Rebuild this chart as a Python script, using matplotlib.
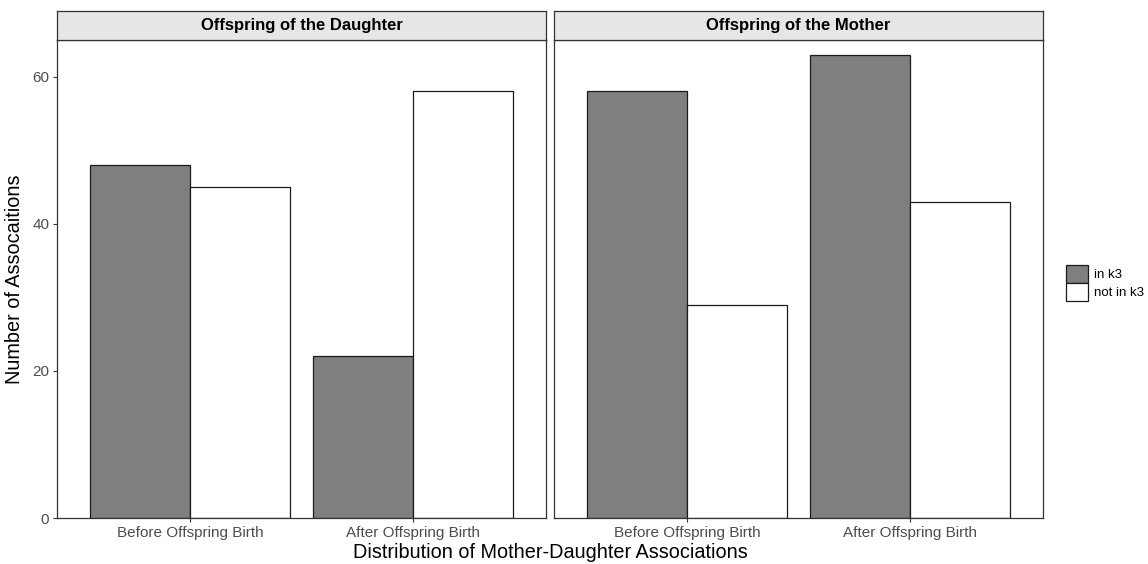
import matplotlib.pyplot as plt
from matplotlib.patches import Patch
import numpy as np

plt.rcParams['font.family'] = ['Liberation Sans', 'DejaVu Sans']

panels = ["Offspring of the Daughter", "Offspring of the Mother"]
periods = ["Before Offspring Birth", "After Offspring Birth"]
groups = ["in k3", "not in k3"]
colors = ["#7f7f7f", "#ffffff"]

# values[panel][group] -> per period
in_k3 = [[48, 22], [58, 63]]
not_in_k3 = [[45, 58], [29, 43]]

W, H = 1148, 564
fig = plt.figure(figsize=(W / 100, H / 100), dpi=100)

panel_x = [57, 554]
panel_w = 489
ax_top, ax_bot, strip_top = 40, 518, 11
edge = "#333333"

x = np.arange(1, len(periods) + 1)
bw = 0.45
axes = []
for i, name in enumerate(panels):
    ax = fig.add_axes([panel_x[i] / W, 1 - ax_bot / H, panel_w / W, (ax_bot - ax_top) / H])
    ax.bar(x - bw / 2, in_k3[i], bw, color=colors[0], edgecolor="#1a1a1a", linewidth=0.9)
    ax.bar(x + bw / 2, not_in_k3[i], bw, color=colors[1], edgecolor="#1a1a1a", linewidth=0.9)
    ax.set_xlim(0.4, 2.6)
    ax.set_ylim(0, 65)
    ax.set_xticks(x)
    ax.set_xticklabels(periods)
    ax.set_yticks([0, 20, 40, 60])
    ax.tick_params(colors=edge, labelcolor="#4d4d4d", labelsize=11, length=3, width=0.8, pad=2.5)
    for s in ax.spines.values():
        s.set_color(edge)
        s.set_linewidth(0.9)
    if i > 0:
        ax.set_yticklabels([])
        ax.tick_params(axis="y", length=0)
    # strip
    sax = fig.add_axes([panel_x[i] / W, 1 - ax_top / H, panel_w / W, (ax_top - strip_top) / H])
    sax.set_facecolor("#e6e6e6")
    sax.set_xticks([])
    sax.set_yticks([])
    for s in sax.spines.values():
        s.set_color(edge)
        s.set_linewidth(0.9)
    sax.text(0.5, 0.5, name, ha="center", va="center", fontsize=12,
             fontweight="bold", transform=sax.transAxes)
    axes.append(ax)

axes[0].set_ylabel("Number of Assocaitions", fontsize=14.3, labelpad=6)
fig.text((57 + 554 + panel_w) / 2 / W, 1 - 553 / H, "Distribution of Mother-Daughter Associations",
         ha="center", va="center", fontsize=14.3)

handles = [Patch(facecolor=c, edgecolor="#1a1a1a", linewidth=0.9) for c in colors]
fig.legend(handles, groups, loc="center left", bbox_to_anchor=(1058 / W, 1 - 283 / H),
           frameon=False, fontsize=9.5, handlelength=1.7, handleheight=1.7,
           handletextpad=0.45, labelspacing=0.0, borderaxespad=0.2)

fig.savefig("out.png", dpi=100)
